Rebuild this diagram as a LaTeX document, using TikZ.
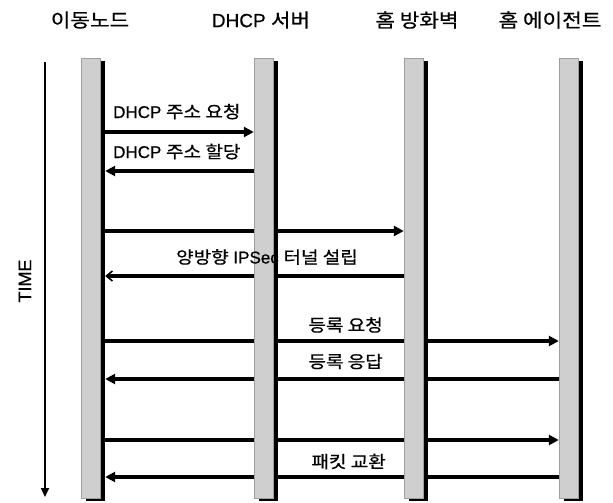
\documentclass[tikz,border=0pt]{standalone}
\usepackage{fontspec}
\setmainfont[FakeBold=0.6]{Liberation Sans}
\newfontfamily\kr[FakeStretch=1.12,FakeBold=0.6]{Noto Sans CJK KR}
\usetikzlibrary{arrows.meta,shadows,backgrounds}
\begin{document}
\begin{tikzpicture}[x=1pt,y=-1pt,
  hdr/.style={font=\fontsize{19}{22}\selectfont, inner sep=0pt},
  lbl/.style={font=\fontsize{17}{19}\selectfont, inner sep=0pt},
  lifebar/.style={draw=gray!75, line width=0.4pt, fill=gray!38, minimum width=19pt,
    minimum height=440pt, inner sep=0pt,
    drop shadow={shadow xshift=5pt, shadow yshift=-3pt, fill=black, opacity=1, draw=none}},
  msg/.style={line width=3.2pt, -{Triangle[length=10pt,width=10pt]}},
  msgo/.style={line width=3.2pt, -{Straight Barb[length=6pt,width=10pt,line width=1.6pt]}},
  timeline/.style={line width=2pt, -{Triangle[length=9pt,width=8pt]}}
  ]
\useasboundingbox (0,0) rectangle (613,503);

% headers
\node[hdr] (h1) at (90,20) {\kr 이동노드};
\node[hdr] (h2) at (261,20) {DHCP {\kr 서버}};
\node[hdr] (h3) at (417,20) {\kr 홈 방화벽};
\node[hdr] (h4) at (550,20) {\kr 홈 에이전트};

% lifelines
\node[lifebar] (b1) at (90.5,278) {};
\node[lifebar] (b2) at (263.5,278) {};
\node[lifebar] (b3) at (413.5,278) {};
\node[lifebar] (b4) at (568.5,278) {};
\coordinate (s1) at ([xshift=5pt]b1.east);

% time axis
\coordinate (tt) at (45,62);
\coordinate (tb) at (45,497);
\draw[timeline] (tt) -- (tb);
\node[rotate=90, font=\fontsize{18}{20}\selectfont, inner sep=0pt] (time) at (25,281) {TIME};

% messages (behind the bars)
\begin{scope}[on background layer]
\draw[msg] (s1 |- 0,132) -- (b2.west |- 0,132);
\draw[msg] (b2.west |- 0,171) -- (s1 |- 0,171);
\draw[msg] (s1 |- 0,231) -- (b3.west |- 0,231);
\draw[msgo] (b3.west |- 0,276) -- (s1 |- 0,276);
\draw[msg] (s1 |- 0,341) -- (b4.west |- 0,341);
\draw[msg] (b4.west |- 0,379) -- (s1 |- 0,379);
\draw[msg] (s1 |- 0,440) -- (b4.west |- 0,440);
\draw[msg] (b4.west |- 0,477) -- (s1 |- 0,477);
\end{scope}

% labels
\node[lbl, anchor=base west] (l1) at (113,118) {DHCP {\kr 주소 요청}};
\node[lbl, anchor=base west] (l2) at (113,158) {DHCP {\kr 주소 할당}};
\node[lbl] (l3) at (267,257) {{\kr 양방향} IPSec {\kr 터널 설립}};
\node[lbl, anchor=east] (l4) at (383,325) {\kr 등록 요청};
\node[lbl, anchor=east] (l5) at (383,361.5) {\kr 등록 응답};
\node[lbl, anchor=east] (l6) at (386,461.5) {\kr 패킷 교환};
\end{tikzpicture}
\end{document}
